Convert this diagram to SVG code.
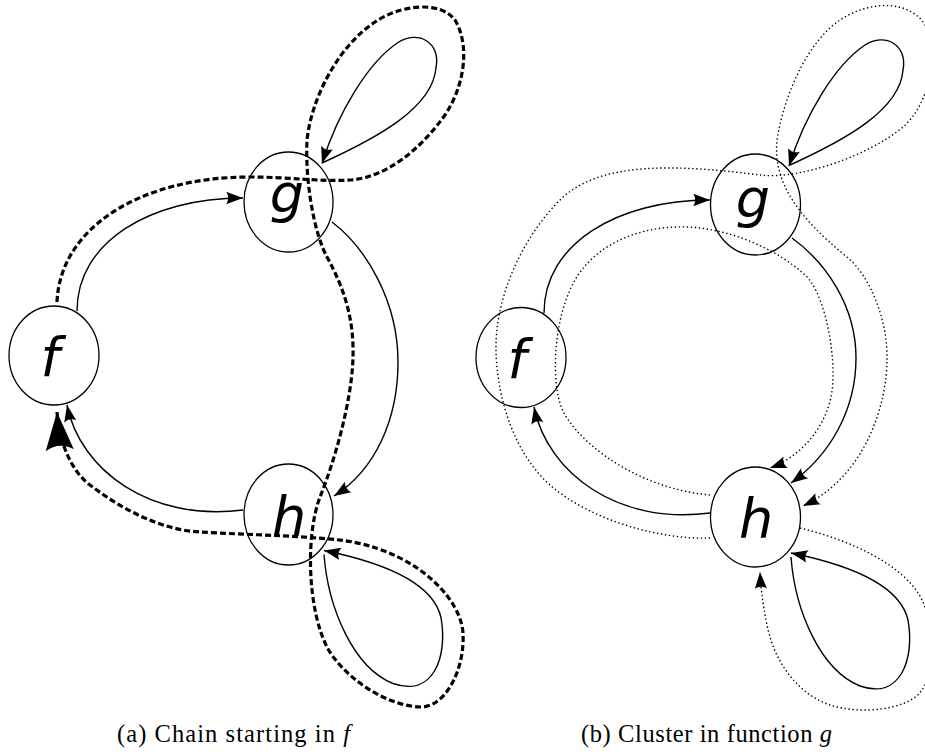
<svg xmlns="http://www.w3.org/2000/svg" width="925" height="752" viewBox="0 0 925 752">
<style>
.node{fill:none;stroke:#000;stroke-width:1.3}
.lbl{font-family:"DejaVu Sans",sans-serif;font-style:italic;font-size:54px;fill:#000;text-anchor:middle}
.edge{fill:none;stroke:#000;stroke-width:1.4;marker-end:url(#arr)}
.dash{fill:none;stroke:#000;stroke-width:3.2;stroke-dasharray:6,3;marker-end:url(#arr)}
.dot{fill:none;stroke:#000;stroke-width:1.4;stroke-dasharray:1.4,2.6;marker-end:url(#arr)}
.cap{font-family:"Liberation Serif",serif;font-size:24.5px;fill:#000}
</style>
<defs>
<marker id="arr" viewBox="-13 -5 14 10" refX="0" refY="0" markerWidth="14" markerHeight="10" orient="auto" markerUnits="strokeWidth" overflow="visible">
<path d="M0,0 L-12,-4.4 C-10.1,-1.8 -10.1,1.8 -12,4.4 Z" fill="#000" stroke="none"/>
</marker>
</defs>
<rect width="925" height="752" fill="#fff"/>
<g id="connectors">
<!-- left diagram -->
<path class="edge" d="M77,311 C77,242 150,198 243,198"/>
<path class="edge" d="M332,222 C365,247 398,300 398,362 C398,420 375,470 334,496"/>
<path class="edge" d="M243,510 C150,522 80,470 67,405"/>
<path class="edge" d="M323,162.5 C378,137.5 433,107.5 436,67.5 C441,42.5 418,29.5 398,42.5 C368,62.5 338,112.5 322,163.5"/>
<path class="edge" d="M324,554.5 C328,607.5 353,667.5 393,683.5 C433,697.5 448,657.5 441,617.5 C433,582.5 383,562.5 324,550.5"/>
<path class="dash" d="M57,302 C60,228 140,177 250,177 C290,177 320,182 350,180 C385,178 420,150 445,115 C465,85 470,45 455,20 C440,0 400,5 375,22 C340,45 312,95 307,140 C305,185 315,235 327,257 C345,290 354,320 353,357 C352,400 335,460 320,497 C305,537 308,610 327,647 C340,672 380,705 420,707 C445,708 465,670 463,633 C461,600 420,555 353,542 C320,536 250,535 200,532 C160,530 120,508 90,485 C70,470 59,440 57,412"/>
<!-- right diagram -->
<path class="edge" d="M544,313 C544,244 617,200 710,200"/>
<path class="edge" d="M792,238 C825,262 856,305 856,358 C856,410 830,455 791,483"/>
<path class="edge" d="M710,513 C620,525 548,475 534,407"/>
<path class="edge" d="M790,165 C845,140 900,110 903,70 C908,45 885,32 865,45 C835,65 805,115 789,166"/>
<path class="edge" d="M791,557 C795,610 820,670 860,686 C900,700 915,660 908,620 C900,585 850,565 791,553"/>
<path class="dot" d="M710,538 C660,540 590,520 550,485 C515,454 497,400 496,350 C495,300 520,240 560,200 C600,160 680,165 760,175 C800,180 870,155 903,127 C930,104 940,50 925,25 C910,0 870,0 840,20 C810,40 785,90 777,140 C773,180 795,215 847,257 C870,276 888,320 887,360 C887,400 868,475 803,506"/>
<path class="dot" d="M800,528 C850,540 905,565 922,600 C935,627 935,670 922,690 C909,710 860,715 830,705 C800,695 775,665 767,625 C763,605 761,590 760,572"/>
<path class="dot" d="M710,495 C650,490 590,455 565,415 C550,390 552,320 575,280 C598,240 650,222 700,228 C740,233 780,252 805,275 C822,290 834,340 833,380 C832,420 805,455 770,468"/>
</g>
<g id="a-f"><ellipse class="node" cx="54" cy="355.5" rx="45" ry="49.5"/><text class="lbl" x="50" y="376">f</text></g>
<g id="a-g"><ellipse class="node" cx="288.5" cy="202" rx="44.5" ry="50"/><text class="lbl" x="287" y="212">g</text></g>
<g id="a-h"><ellipse class="node" cx="288.5" cy="514.5" rx="44.5" ry="50.5"/><text class="lbl" x="289" y="535">h</text></g>
<g id="b-f"><ellipse class="node" cx="521" cy="357.5" rx="45" ry="50"/><text class="lbl" x="517" y="378">f</text></g>
<g id="b-g"><ellipse class="node" cx="755.5" cy="204.5" rx="45" ry="50.5"/><text class="lbl" x="753" y="216.5">g</text></g>
<g id="b-h"><ellipse class="node" cx="755.5" cy="517" rx="45" ry="50"/><text class="lbl" x="756" y="537">h</text></g>
<text class="cap" x="117" y="742" textLength="233" lengthAdjust="spacing">(a) Chain starting in <tspan font-style="italic">f</tspan></text>
<text class="cap" x="581" y="742" textLength="251" lengthAdjust="spacing">(b) Cluster in function <tspan font-style="italic">g</tspan></text>
</svg>
